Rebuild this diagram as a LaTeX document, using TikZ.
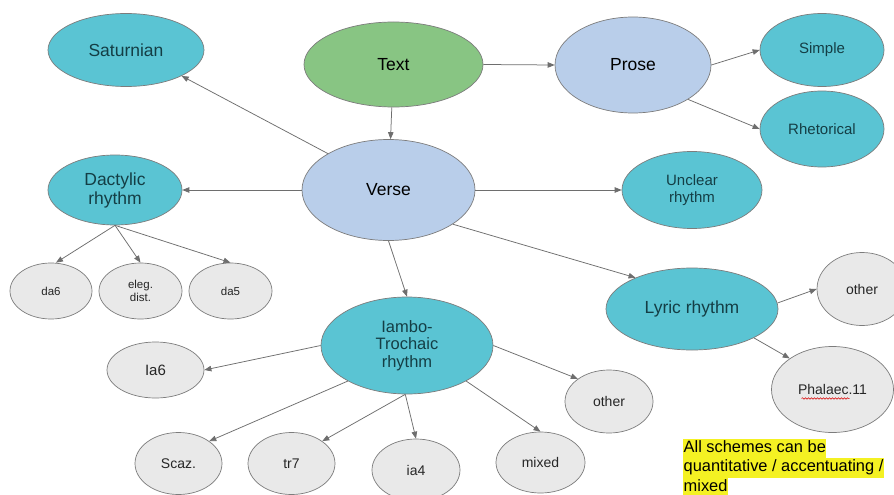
\documentclass[tikz,border=0pt]{standalone}
\usepackage{fontspec}
\setmainfont{Liberation Sans}
\usetikzlibrary{shapes.geometric,arrows.meta,decorations.pathmorphing}
\definecolor{teal1}{HTML}{5AC4D3}
\definecolor{green1}{HTML}{88C583}
\definecolor{blue1}{HTML}{B9CEEA}
\definecolor{grey1}{HTML}{E9E9E9}
\definecolor{edge1}{HTML}{6E6E6E}
\definecolor{border1}{HTML}{7C7C7C}
\definecolor{tealtext}{HTML}{143E45}
\definecolor{darktext}{HTML}{262626}
\definecolor{hl}{HTML}{F4F123}
\tikzset{
  oval/.style={shape=ellipse, draw=border1, line width=0.7pt, inner sep=0pt, align=center},
  tealnode/.style={oval, fill=teal1, text=tealtext},
  greennode/.style={oval, fill=green1, text=black},
  bluenode/.style={oval, fill=blue1, text=black},
  greynode/.style={oval, fill=grey1, text=darktext},
  conn/.style={draw=edge1, line width=0.75pt, -{Triangle[length=7pt,width=5.5pt]}},
  hlline/.style={fill=hl, inner xsep=0.5pt, inner ysep=0pt, text height=13.5pt, text depth=6pt, anchor=base west, font=\fontsize{16.4}{19.5}\selectfont, text=black},
  big/.style={font=\fontsize{17.5}{19}\selectfont},
  mid/.style={font=\fontsize{15}{17.7}\selectfont},
  sml/.style={font=\fontsize{14}{16}\selectfont},
  tiny1/.style={font=\fontsize{11.5}{12.7}\selectfont}
}
\begin{document}
\begin{tikzpicture}[x=1pt,y=-1pt]
\useasboundingbox (0,0) rectangle (894,495);
\clip (0,0) rectangle (894,495);
\fill[white] (0,0) rectangle (894,495);

% top row
\node[tealnode, big, minimum width=156pt, minimum height=73pt] (saturnian) at (126,50) {Saturnian};
\node[greennode, big, minimum width=179pt, minimum height=85pt] (text) at (393.5,64.5) {Text};
\node[bluenode, big, minimum width=156pt, minimum height=96pt] (prose) at (633,65) {Prose};
\node[tealnode, mid, minimum width=124pt, minimum height=73pt] (simple) at (822,50) {Simple};
\node[tealnode, mid, minimum width=124pt, minimum height=76pt] (rhet) at (822,129) {Rhetorical};

% middle row
\node[tealnode, big, minimum width=134pt, minimum height=70pt] (dact) at (115,190) {Dactylic\\rhythm};
\node[bluenode, big, minimum width=173pt, minimum height=101pt] (verse) at (388.5,190) {Verse};
\node[tealnode, mid, minimum width=140pt, minimum height=77pt] (unclear) at (692,190) {Unclear\\rhythm};

% dactylic children
\node[greynode, tiny1, minimum width=82pt, minimum height=56pt] (da6) at (51,291) {da6};
\node[greynode, tiny1, minimum width=83pt, minimum height=56pt] (eleg) at (140.5,291) {eleg.\\dist.};
\node[greynode, tiny1, minimum width=83pt, minimum height=56pt] (da5) at (230.5,291) {da5};

% iambo-trochaic and children
\node[tealnode, font=\fontsize{16.5}{17.7}\selectfont, minimum width=172pt, minimum height=97pt] (iambo) at (407,345.5) {Iambo-\\Trochaic\\rhythm};
\node[greynode, font=\fontsize{15}{16}\selectfont, minimum width=97pt, minimum height=56pt] (ia6) at (155.5,370) {Ia6};
\node[greynode, sml, minimum width=87pt, minimum height=62pt] (scaz) at (178.5,463.5) {Scaz.};
\node[greynode, sml, minimum width=87pt, minimum height=62pt] (tr7) at (291.5,463.5) {tr7};
\node[greynode, sml, minimum width=88pt, minimum height=62pt] (ia4) at (416,470) {ia4};
\node[greynode, sml, minimum width=89pt, minimum height=61pt] (mixed) at (540.5,462.5) {mixed};
\node[greynode, sml, minimum width=88pt, minimum height=63pt] (other1) at (609,401.5) {other};

% lyric and children
\node[tealnode, big, minimum width=172pt, minimum height=82pt] (lyric) at (692,309) {Lyric rhythm};
\node[greynode, sml, minimum width=90pt, minimum height=73pt] (other2) at (862,289) {other};
\node[greynode, sml, minimum width=122pt, minimum height=86pt] (phal) at (832.5,389.5) {Phalaec.11};
\draw[red!85!black, line width=0.5pt, decorate, decoration={snake, amplitude=0.8pt, segment length=3pt}]
  ([xshift=-31pt,yshift=-9pt]phal.center) -- ([xshift=17pt,yshift=-9pt]phal.center);

% note
\node[hlline] (n1) at (683,452) {All schemes can be};
\node[hlline] (n2) at (683,471.5) {quantitative / accentuating /};
\node[hlline] (n3) at (683,491) {mixed};

% connectors
\draw[conn] (text) -- (verse);
\draw[conn] (text.east) -- (prose.west);
\draw[conn] (prose.east) -- (simple.west);
\draw[conn] (prose.-32) -- (rhet.west);
\draw[conn] (verse.149) -- (saturnian.-25);
\draw[conn] (verse.west) -- (dact.east);
\draw[conn] (verse.east) -- (unclear.west);
\draw[conn] (verse.-28) -- (lyric.151);
\draw[conn] (verse.south) -- (iambo.north);
\draw[conn] (dact.south) -- ([xshift=5pt]da6.north);
\draw[conn] (dact.south) -- (eleg.north);
\draw[conn] (dact.south) -- (da5.north);
\draw[conn] (iambo.west) -- (ia6.east);
\draw[conn] (iambo.211) -- (scaz.36);
\draw[conn] (iambo.268) -- (tr7.36);
\draw[conn] (iambo.268) -- (ia4.north);
\draw[conn] (iambo.-31) -- (mixed.north);
\draw[conn] (iambo.east) -- (other1.144);
\draw[conn] (lyric.4) -- (other2.west);
\draw[conn] (lyric.-25) -- (phal.144);
\end{tikzpicture}
\end{document}
